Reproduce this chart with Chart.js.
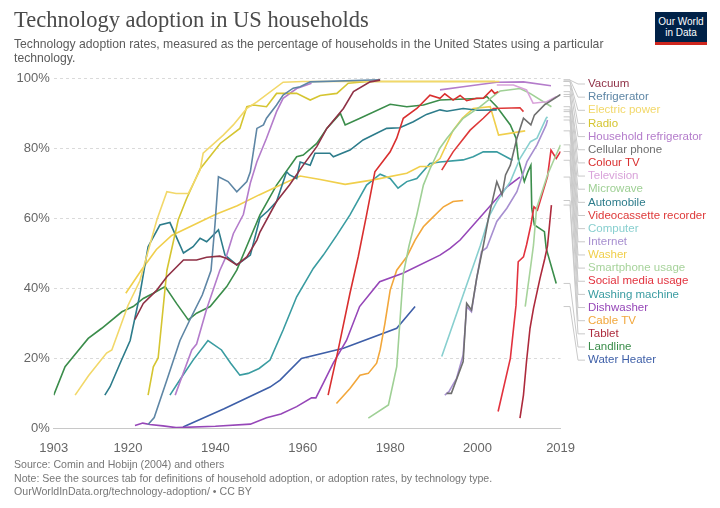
<!DOCTYPE html>
<html lang="en">
<head>
<meta charset="UTF-8">
<title>Technology adoption in US households</title>
<script src="https://cdn.jsdelivr.net/npm/chart.js"></script>
<style>
  body { margin: 0; width: 720px; height: 508px; background: #fff; position: relative; overflow: hidden; font-family: "Liberation Sans", Arial, sans-serif; }
  #title { position: absolute; left: 14px; top: 7px; font-family: "Liberation Serif", serif; font-size: 22.5px; color: #4a4a4a; white-space: nowrap; }
  #subtitle { position: absolute; left: 14px; top: 37px; width: 600px; font-size: 12.2px; line-height: 14px; color: #5b5b5b; }
  #logo { position: absolute; left: 655px; top: 12px; width: 52px; height: 33px; background: #002147; color: #fff; font-size: 10px; line-height: 11px; text-align: center; box-sizing: border-box; padding-top: 4px; border-bottom: 3px solid #ce261e; }
  #footer { position: absolute; left: 14px; top: 458px; font-size: 10.6px; line-height: 13.5px; color: #777; }
  #chart { position: absolute; left: 0; top: 0; }
</style>
</head>
<body>
  <canvas id="chart" width="720" height="508"></canvas>
  <div id="title">Technology adoption in US households</div>
  <div id="subtitle">Technology adoption rates, measured as the percentage of households in the United States using a particular technology.</div>
  <div id="logo">Our World<br>in Data</div>
  <div id="footer">Source: Comin and Hobijn (2004) and others<br>Note: See the sources tab for definitions of household adoption, or adoption rates, by technology type.<br>OurWorldInData.org/technology-adoption/ • CC BY</div>

<script>
  // [year, % of households]
  const vacuum = [[1921.6,31],[1923.5,35.6],[1926.6,39.4],[1928.9,43.2],[1932.7,48],[1935.7,48],[1938,48.8],[1941,49.1],[1942.5,48.5],[1944.9,46.6],[1947.2,48.9],[1949.5,53.7],[1950.2,56],[1954,64.7],[1957,69.5],[1960.1,75.1],[1963.2,80.4],[1965.5,85.6],[1969.3,91.3],[1971.6,96.1],[1975.4,98.9],[1977.7,99.4]];
  const refrigerator = [[1924.6,1],[1926,3],[1928.9,13.7],[1931.9,25],[1934.2,31],[1937,38],[1939,45],[1939.9,58],[1940.7,71.8],[1942.9,70.4],[1944.9,67.5],[1947.2,70.4],[1948,73.2],[1949.5,85.6],[1951,86.6],[1951.7,88.5],[1954,92.3],[1955.5,95.1],[1957.8,97.1],[1959.4,97.5],[1961.7,98.9],[1977.7,99.5]];
  const electricPower = [[1907.9,9.4],[1911,15],[1915.1,21.4],[1916.3,22.3],[1920,35],[1922.7,42],[1926.6,59.4],[1928.9,67.5],[1931,67],[1933.8,67],[1936.5,73.7],[1937.2,78.5],[1941.8,83.7],[1944.1,86.6],[1947.2,91.3],[1949.5,93.2],[1955.5,98.8],[1960,99],[2005,99]];
  const radio = [[1924.6,9.4],[1925.8,17.5],[1926.9,20],[1928.9,45],[1931.5,59.5],[1933.4,65.5],[1936.5,74],[1941.1,81.3],[1945.6,85.6],[1947.2,91.8],[1948.7,92.3],[1951.7,91.8],[1954,95.6],[1958.6,95.6],[1961.7,93.7],[1964,95],[1967.8,95.6],[1970.4,98.5],[1975,99],[2004,99]];
  const householdRefrigerator = [[1930.8,9.4],[1934.6,22.3],[1935.7,24],[1938,34],[1941,45],[1942.6,49.4],[1944.1,55.5],[1946.4,61],[1948,70],[1949.5,76.1],[1951.7,82.8],[1954,90.4],[1955.5,94.2],[1958.6,97],[1962,98.5],[1975,null],[1991.4,96.6],[1996.7,97.5],[2004.4,98.8],[2010.5,98.9],[2016.8,97.8]];
  const cellularPhone = [[1992.9,9.9],[1994,9.9],[1996.7,19],[1997.5,35.6],[1998.6,33.7],[1999.8,42.8],[2001.3,52],[2002.5,60],[2004.4,70.4],[2005.6,66.6],[2006.4,72.3],[2007.5,75.1],[2009,82.8],[2010.5,88.5],[2012.2,86.6],[2013,89.4],[2015.3,92.3],[2019,95.3]];
  const colourTV = [[1965.8,9.4],[1968.1,22.3],[1970.8,38.5],[1972.7,49],[1974.6,60.9],[1976.5,73.2],[1980,78.9],[1981.5,82.8],[1983,88.5],[1986.1,91.3],[1989.1,95.1],[1991.4,94.2],[1992.5,95.5],[1994.4,93.7],[1996,95],[1997.5,93.5],[1999.8,94.2],[2001.3,94.2],[2003.2,96.6],[2003.9,95.6],[2004.7,96.1]];
  const television = [[2004.4,98],[2008.2,98],[2011.2,96.6],[2012.7,92.8],[2015.8,93.2],[2018.1,94.7]];
  const microwave = [[1975,2.8],[1979.6,6.6],[1981.5,17.5],[1983,44],[1984.3,52],[1986.1,60.9],[1987.6,69.4],[1989.1,74],[1991.4,80],[1993,82.8],[1996.7,88.5],[2000.6,91.8],[2004.4,95.6],[2005.2,96.3],[2009.7,97],[2012,95.6],[2016.9,91.8]];
  const automobile = [[1914.7,9.4],[1915.9,11.8],[1918.2,18.5],[1920.5,25],[1922.7,38],[1924.6,51.8],[1927.3,58],[1929.6,58.7],[1932.7,50],[1934.9,51.8],[1936.5,54.2],[1938,53.2],[1940.7,56.6],[1942.2,49.4],[1944.9,46.6],[1948,49.4],[1950.2,60],[1952,62],[1954,64.7],[1956.3,73.2],[1957,72.3],[1958.6,71.3],[1959.4,76],[1961.7,75.1],[1962.8,78.5],[1966.2,78.5],[1967,77.5],[1970.8,79.4],[1973.8,82.3],[1976.9,84.2],[1979.2,85.6],[1982.2,85.8],[1985.3,87.5],[1988.3,89.6],[1991.4,90.9],[1993,90.5],[1996.7,91.3],[2000,90.8],[2004.4,90.9]];
  const vcr = [[1991.8,73.7],[1994.4,78.9],[1998.3,85.1],[2001.3,88.5],[2003.6,91.3],[2009.7,91.5],[2010.5,90.4]];
  const computer = [[1991.8,20.4],[2000.6,52],[2002.8,60.9],[2004.4,64.7],[2007.5,70.4],[2009.7,77],[2012.1,81.8],[2013.6,82.8],[2015.7,88.5],[2016,88.9]];
  const internet = [[1992.5,9.4],[1993.5,10.5],[1995.2,14.2],[1996.7,20.9],[1997.5,34.7],[1998.6,33.2],[1999.8,42.8],[2000.9,50.4],[2002.1,51.5],[2004.4,59],[2006.7,62.8],[2009,67.5],[2011.3,76.1],[2013.6,80.9],[2015.7,86.6],[2016,88]];
  const washer = [[1919.5,38.5],[1923,45],[1926.5,51],[1930,55],[1935,58],[1940,61],[1945,63.5],[1950,66.6],[1955,69.5],[1959.4,72],[1964,71],[1969.7,69.6],[1976.1,70.9],[1983.8,72.8],[1986.8,74.7],[1989.1,74.7],[1991.4,77],[1994.4,85],[1996.5,88.5],[1999,91.3],[2002.9,91.8],[2004.8,83.7],[2010.9,84.9]];
  const smartphone = [[2010.9,34.7],[2012.2,46.6],[2012.8,52.3],[2013.5,62.8],[2016,72.3],[2017.6,77],[2019,80.9]];
  const socialMedia = [[2004.7,4.7],[2007.5,19.9],[2008.8,35.1],[2009.3,47.5],[2010.5,48.9],[2011.2,52.3],[2012.2,58],[2012.9,63.2],[2013.7,62.3],[2016,71.8],[2016.8,79.4],[2018,77],[2019,79]];
  const washingMachine = [[1929.6,9.4],[1932,14],[1934.9,19.4],[1938.3,25],[1941.4,22.3],[1943.5,18.5],[1945.6,15.1],[1947.5,15.6],[1950,17],[1952.5,19.4],[1955.5,28],[1958.6,37.5],[1962.4,45.6],[1964.7,49.4],[1967.8,55.1],[1970.8,60.9],[1974.6,69.4],[1977.7,72.5],[1980,71.3],[1981.8,68.5],[1983.8,70.4],[1986.1,71.3],[1989.1,75.6],[1991.4,76],[1996.7,76.6],[1999,77.5],[2001.3,78.9],[2004.4,78.9],[2008,76.5]];
  const dishwasher = [[1921.6,0.7],[1923.4,1.4],[1925,1],[1928,0.6],[1931,0.1],[1940,0.5],[1948,1.1],[1951.7,2.9],[1955,4],[1958.6,6.1],[1962,8.6],[1963,8.6],[1964.7,12.8],[1967,18.6],[1970,25],[1973,34.7],[1977.6,41.8],[1982.9,44.2],[1991.4,49.4],[1993.7,51.3],[1996,53.7],[2006.8,69],[2009.7,71.7]];
  const cableTV = [[1967.7,7],[1970.8,11.3],[1973.1,15.1],[1975,15.6],[1976.9,18.5],[1977.7,22.3],[1978.8,29.9],[1980,39.4],[1981.5,45.1],[1983.8,48.9],[1985.7,53.7],[1987.6,57.5],[1989.1,59.4],[1992.2,63.2],[1994.4,64.7],[1996.7,65]];
  const tablet = [[2009.7,2.8],[2010.5,9.4],[2011.2,19],[2012,28.5],[2012.8,34.2],[2014.3,42.8],[2015.4,48.5],[2016,52],[2016.9,63.7]];
  const landline = [[1903,9.4],[1905.6,17.5],[1907.5,20.4],[1910.9,25.6],[1914,28.5],[1918.6,33.2],[1921.2,34.7],[1923.5,37],[1925.8,38.5],[1928.5,40.4],[1931.1,35.6],[1933.8,30.9],[1935.7,32.8],[1938.8,34.7],[1942.6,40.4],[1944.9,45.1],[1947.2,52],[1950.2,60.9],[1954,69.4],[1958.6,77.5],[1960.1,78],[1963.2,81.3],[1965.5,85.6],[1968.6,89.9],[1969.7,86.6],[1973.1,88.5],[1980,92.5],[1983.8,91.8],[1987.6,92.3],[1991.4,93.7],[2001.3,94.2],[2002.1,94.7],[2004.4,91.8],[2007.5,86.6],[2008.8,82.8],[2009.3,77],[2010.7,70.4],[2011.5,73.2],[2012.2,75.1],[2012.4,62.8],[2013,58],[2015.3,56.1],[2015.7,51.3],[2018,41.3]];
  const waterHeater = [[1932.6,0.3],[1942,5.5],[1952.5,11.7],[1954.8,13.7],[1959.7,19.9],[1969.3,22.8],[1981.5,28.5],[1985.7,34.7]];

  const names = ['Vacuum','Refrigerator','Electric power','Radio','Household refrigerator','Cellular phone','Colour TV','Television','Microwave','Automobile','Videocassette recorder','Computer','Internet','Washer','Smartphone usage','Social media usage','Washing machine','Dishwasher','Cable TV','Tablet','Landline','Water Heater'];
  const values = [vacuum, refrigerator, electricPower, radio, householdRefrigerator, cellularPhone, colourTV, television, microwave, automobile, vcr, computer, internet, washer, smartphone, socialMedia, washingMachine, dishwasher, cableTV, tablet, landline, waterHeater];
  const colors = ['#8f3146','#5e86a5','#f2d86a','#d5c531','#b47ccb','#6f6f6f','#d92f2f','#d9a3da','#9fd095','#2d7c8b','#de3a3a','#88cfcf','#a78fd0','#f0cf4c','#a7d39b','#e2323e','#3a9ca1','#9647b8','#f2a73b','#ad2a3c','#3b8d4b','#3e5fa8'];
  const xTicks = [1903, 1920, 1940, 1960, 1980, 2000, 2019];

  const datasets = names.map((n, i) => ({
    label: n,
    data: values[i].map(p => ({ x: p[0], y: p[1] })),
    borderColor: colors[i],
    backgroundColor: colors[i],
    borderWidth: 1.6,
    pointRadius: 0,
    tension: 0,
    spanGaps: false
  }));

  const labelsPlugin = {
    id: 'endLabels',
    afterDatasetsDraw(chart) {
      const ctx = chart.ctx;
      const ys = chart.scales.y;
      const right = chart.chartArea.right;
      ctx.save();
      ctx.font = '11.5px "Liberation Sans", Arial, sans-serif';
      ctx.textBaseline = 'middle';
      names.forEach((n, i) => {
        const pts = values[i].filter(p => p[1] !== null);
        const yEnd = ys.getPixelForValue(pts[pts.length - 1][1]);
        const yLab = 84 + i * 13.15;
        ctx.strokeStyle = '#c9c9c9';
        ctx.lineWidth = 1;
        ctx.beginPath();
        ctx.moveTo(right + 3, yEnd);
        ctx.lineTo(570, yEnd);
        ctx.lineTo(578, yLab);
        ctx.lineTo(585, yLab);
        ctx.stroke();
        ctx.fillStyle = colors[i];
        ctx.fillText(n, 588, yLab);
      });
      ctx.restore();
    }
  };

  new Chart(document.getElementById('chart'), {
    type: 'line',
    data: { datasets: datasets },
    options: {
      responsive: false,
      animation: false,
      layout: { padding: { left: 0, right: 159.4, top: 78, bottom: 50 } },
      plugins: { legend: { display: false }, tooltip: { enabled: false } },
      scales: {
        x: {
          type: 'linear',
          min: 1903,
          max: 2019,
          afterBuildTicks: s => { s.ticks = xTicks.map(v => ({ value: v })); },
          afterFit: s => { s.height = 30; },
          grid: { display: false },
          border: { display: true, color: '#c8c8c8', width: 1 },
          ticks: { color: '#666', font: { size: 13, family: '"Liberation Sans", Arial, sans-serif' }, padding: 5, maxRotation: 0, autoSkip: false, callback: v => String(v) }
        },
        y: {
          min: 0,
          max: 100,
          afterFit: s => { s.width = 53.7; },
          grid: { drawTicks: false, color: c => c.tick.value === 0 ? 'rgba(0,0,0,0)' : '#dadada' },
          border: { display: false, dash: [3, 3] },
          ticks: { stepSize: 20, color: '#666', font: { size: 13, family: '"Liberation Sans", Arial, sans-serif' }, padding: 4, callback: v => v + '%' }
        }
      }
    },
    plugins: [labelsPlugin]
  });
</script>
</body>
</html>
